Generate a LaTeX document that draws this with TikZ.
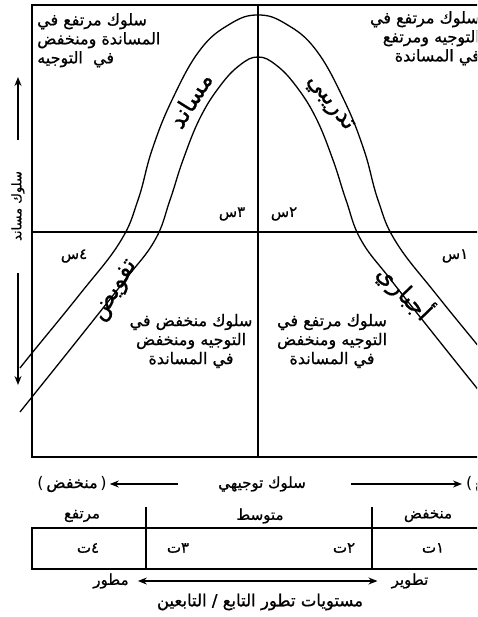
\documentclass[tikz,border=0pt]{standalone}
\usepackage{fontspec}
\usetikzlibrary{arrows.meta, positioning}
\TeXXeTstate=1
\newfontfamily\arabicfont[Script=Arabic, RawFeature={embolden=0.8}]{DejaVu Sans}
\newfontfamily\latinfont{DejaVu Sans}
\newcommand\artxt[1]{\beginR #1\endR}
\newcommand\slab[2]{\mbox{#1}\mbox{#2}}
\newcommand\inparen[1]{{\latinfont(}\,\artxt{#1}\,{\latinfont)}}

\begin{document}
\begin{tikzpicture}[x=1pt, y=-1pt,
        frame/.style={line width=1.6pt},
        curve/.style={line width=1.3pt},
        quad/.style={font=\arabicfont\fontsize{16}{19}\selectfont, inner sep=0pt},
        band/.style={font=\arabicfont\fontsize{24}{26}\selectfont, inner sep=0pt},
        tag/.style={font=\arabicfont\fontsize{15}{17}\selectfont, inner sep=0pt},
        arrow/.style={-{Stealth[length=9pt,width=7pt]}, line width=1.2pt}
    ]
    \useasboundingbox (0,0) rectangle (477,617);
    \clip (0,0) rectangle (477,617);

    % frame, quadrants and table
    \draw[frame] (32,5) rectangle (490,457);
    \draw[frame] (258,5) -- (258,457);
    \draw[frame] (32,232) -- (490,232);
    \draw[frame] (32,528) rectangle (490,569);
    \draw[frame] (146,507) -- (146,569);
    \draw[frame] (372,507) -- (372,569);

    % leadership curves
    \draw[curve] plot[smooth, tension=0.7] coordinates {(20,368) (32,353) (80,294) (120,242) (138,200)
        (152,150) (172,100) (200,50) (230,24) (258,15) (286,24) (316,50) (344,100) (364,150)
        (378,200) (396,242) (436,294) (484,353) (496,368)};
    \draw[curve] plot[smooth, tension=0.7] coordinates {(20,412) (32,397) (80,337) (125,280) (155,240)
        (170,200) (183,160) (200,118) (220,86) (240,65) (258,57) (276,65) (296,86) (316,118)
        (333,160) (346,200) (361,240) (391,280) (436,337) (484,397) (496,412)};

    \node[band, rotate=58] (supp) at (190,100) {\artxt{مساند}};
    \node[band, rotate=-52] (coach) at (329,104) {\artxt{تدريبي}};
    \node[band, rotate=59] (deleg) at (116,291) {\artxt{تفويض}};
    \node[band, rotate=-46] (direct) at (405,292) {\artxt{أجباري}};

    \node[quad, anchor=north west, align=left] (q3) at (37,13) {\artxt{سلوك مرتفع في}\\\artxt{المساندة ومنخفض}\\\artxt{في\ \ التوجيه}};
    \node[quad, anchor=north east, align=right] (q2) at (480,11) {\artxt{سلوك مرتفع في}\\\artxt{التوجيه ومرتفع}\\\artxt{في المساندة}};
    \node[quad, align=center] (q4) at (191,341) {\artxt{سلوك منخفض في}\\\artxt{التوجيه ومنخفض}\\\artxt{في المساندة}};
    \node[quad, align=center] (q1) at (332,341) {\artxt{سلوك مرتفع في}\\\artxt{التوجيه ومنخفض}\\\artxt{في المساندة}};

    \node[tag] (s3) at (232,214) {\slab{س}{٣}};
    \node[tag] (s2) at (284,214) {\slab{س}{٢}};
    \node[tag] (s4) at (74,256) {\slab{س}{٤}};
    \node[tag] (s1) at (455,256) {\slab{س}{١}};

    % vertical axis
    \node[tag, font=\arabicfont\fontsize{13}{15}\selectfont, rotate=90] (vlab) at (18,206) {\artxt{سلوك مساند}};
    \coordinate (upFrom) at (18,140);
    \coordinate (upTo) at (18,77);
    \coordinate (dnFrom) at (18,273);
    \coordinate (dnTo) at (18,385);
    \draw[arrow] (upFrom) -- (upTo);
    \draw[arrow] (dnFrom) -- (dnTo);

    % horizontal axis
    \node[tag] (hlab) at (262,484) {\artxt{سلوك توجيهي}};
    \node[tag, font=\arabicfont\fontsize{16}{18}\selectfont] (hlow) at (72,484) {\inparen{منخفض}};
    \node[tag, font=\arabicfont\fontsize{16}{18}\selectfont, anchor=west] (hhigh) at (466,484) {\inparen{مرتفع}};
    \draw[arrow] ([xshift=-40pt]hlab.west) -- ([xshift=3pt]hlow.east);
    \draw[arrow] ([xshift=45pt]hlab.east) -- ([xshift=-4pt]hhigh.west);

    % follower readiness
    \node[tag] (rhigh) at (82,516) {\artxt{مرتفع}};
    \node[tag] (rmid) at (260,516) {\artxt{متوسط}};
    \node[tag] (rlow) at (428,516) {\artxt{منخفض}};
    \node[tag] (t4) at (88,548) {\slab{ت}{٤}};
    \node[tag] (t3) at (178,548) {\slab{ت}{٣}};
    \node[tag] (t2) at (344,548) {\slab{ت}{٢}};
    \node[tag] (t1) at (433,548) {\slab{ت}{١}};

    \node[tag] (mature) at (111,581) {\artxt{مطور}};
    \node[tag] (devel) at (410,581) {\artxt{تطوير}};
    \draw[{Stealth[length=9pt,width=7pt]}-{Stealth[length=9pt,width=7pt]}, line width=1.2pt]
        ([xshift=9pt]mature.east) -- ([xshift=-14pt]devel.west);
    \node[tag, font=\arabicfont\fontsize{16.5}{18}\selectfont] (levels) at (260,602) {\artxt{مستويات تطور التابع / التابعين}};
\end{tikzpicture}
\end{document}
